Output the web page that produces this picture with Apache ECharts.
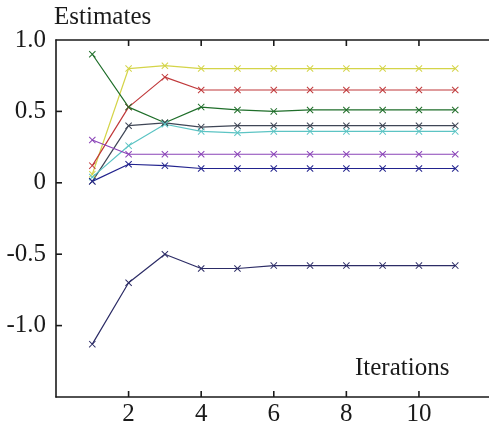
<!DOCTYPE html>
<html>
<head>
<meta charset="utf-8">
<script src="https://cdn.jsdelivr.net/npm/echarts@6/dist/echarts.min.js"></script>
<style>
  html, body { margin: 0; padding: 0; background: #fff; }
  #chart { width: 489px; height: 428px; }
</style>
</head>
<body>
<div id="chart"></div>
<script>
// iterations 1..11
const iterations = [1, 2, 3, 4, 5, 6, 7, 8, 9, 10, 11];

// estimate per iteration, one array per line
const yellowVals = [0.06, 0.80, 0.82, 0.80, 0.80, 0.80, 0.80, 0.80, 0.80, 0.80, 0.80];
const redVals = [0.12, 0.53, 0.74, 0.65, 0.65, 0.65, 0.65, 0.65, 0.65, 0.65, 0.65];
const greenVals = [0.90, 0.53, 0.42, 0.53, 0.51, 0.50, 0.51, 0.51, 0.51, 0.51, 0.51];
const grayVals = [0.01, 0.40, 0.42, 0.39, 0.40, 0.40, 0.40, 0.40, 0.40, 0.40, 0.40];
const cyanVals = [0.04, 0.26, 0.41, 0.36, 0.35, 0.36, 0.36, 0.36, 0.36, 0.36, 0.36];
const purpleVals = [0.30, 0.20, 0.20, 0.20, 0.20, 0.20, 0.20, 0.20, 0.20, 0.20, 0.20];
const blueVals = [0.01, 0.13, 0.12, 0.10, 0.10, 0.10, 0.10, 0.10, 0.10, 0.10, 0.10];
const navyVals = [-1.13, -0.70, -0.50, -0.60, -0.60, -0.58, -0.58, -0.58, -0.58, -0.58, -0.58];

// tick positions (inside ticks on the frame)
const xTickVals = [2, 4, 6, 8, 10];
const yTickVals = [-1, -0.5, 0, 0.5];

const X_MIN = 0, X_MAX = 11.93, Y_MIN = -1.5, Y_MAX = 1;

const font = 'Liberation Serif';
const cross = 'path://M0,1L1,0L5,4L9,0L10,1L6,5L10,9L9,10L5,6L1,10L0,9L4,5Z';

const lines = [
  { vals: yellowVals, color: '#d4d448' },
  { vals: redVals, color: '#c0393b' },
  { vals: greenVals, color: '#1f6e2a' },
  { vals: grayVals, color: '#3f4656' },
  { vals: cyanVals, color: '#5cc4c4' },
  { vals: purpleVals, color: '#8a44b8' },
  { vals: blueVals, color: '#22238e' },
  { vals: navyVals, color: '#2c2c66' },
];

const series = lines.map(l => ({
  type: 'line',
  data: iterations.map((x, i) => [x, l.vals[i]]),
  symbol: cross,
  symbolSize: 7,
  lineStyle: { color: l.color, width: 1.2 },
  itemStyle: { color: l.color },
  z: 3,
}));

// frame ticks, placed with the axes' own scales
const tickLine = { stroke: '#1a1a1a', lineWidth: 1.6, fill: null };
const TICK = 6;
series.push({
  type: 'custom',
  silent: true,
  clip: false,
  z: 6,
  encode: { x: 0, y: 1 },
  data: xTickVals.map(v => [v, 0, 0]).concat(yTickVals.map(v => [0, v, 1])),
  renderItem: (params, api) => {
    const kind = api.value(2);
    if (kind === 0) {
      const v = api.value(0);
      const b = api.coord([v, Y_MIN]);
      const t = api.coord([v, Y_MAX]);
      return {
        type: 'group',
        children: [
          { type: 'line', shape: { x1: b[0], y1: b[1], x2: b[0], y2: b[1] - TICK }, style: tickLine },
          { type: 'line', shape: { x1: t[0], y1: t[1], x2: t[0], y2: t[1] + TICK }, style: tickLine },
        ],
      };
    }
    const p = api.coord([X_MIN, api.value(1)]);
    return { type: 'line', shape: { x1: p[0], y1: p[1], x2: p[0] + TICK, y2: p[1] }, style: tickLine };
  },
});

const axisLine = () => ({ show: true, onZero: false, lineStyle: { color: '#1a1a1a', width: 1.6 } });

const option = {
  animation: false,
  grid: { left: 56, right: 0, top: 40, bottom: 31 },
  xAxis: [{
    type: 'value',
    min: X_MIN,
    max: X_MAX,
    interval: 2,
    axisLine: axisLine(),
    axisTick: { show: false },
    axisLabel: {
      fontFamily: font,
      fontSize: 25,
      color: '#1a1a1a',
      margin: 5,
      showMinLabel: false,
      showMaxLabel: false,
      formatter: v => (v > 0 && v % 2 === 0 ? String(v) : ''),
    },
    splitLine: { show: false },
  }, {
    type: 'value',
    position: 'top',
    min: X_MIN,
    max: X_MAX,
    axisLine: axisLine(),
    axisTick: { show: false },
    axisLabel: { show: false },
    splitLine: { show: false },
  }],
  yAxis: {
    type: 'value',
    min: Y_MIN,
    max: Y_MAX,
    interval: 0.5,
    name: 'Estimates',
    nameLocation: 'end',
    nameGap: 10,
    nameTextStyle: { fontFamily: font, fontSize: 25, color: '#1a1a1a', align: 'left', padding: [0, 0, 0, -2] },
    axisLine: axisLine(),
    axisTick: { show: false },
    axisLabel: {
      fontFamily: font,
      fontSize: 25,
      color: '#1a1a1a',
      margin: 10,
      formatter: v => (v < -1.2 ? '' : v === 0 ? '0' : v.toFixed(1)),
    },
    splitLine: { show: false },
  },
  graphic: [{
    type: 'text',
    left: 355,
    top: 356,
    style: { text: 'Iterations', font: '25px "Liberation Serif"', fill: '#1a1a1a' },
  }],
  series,
};

const chart = echarts.init(document.getElementById('chart'));
chart.setOption(option);
</script>
</body>
</html>
